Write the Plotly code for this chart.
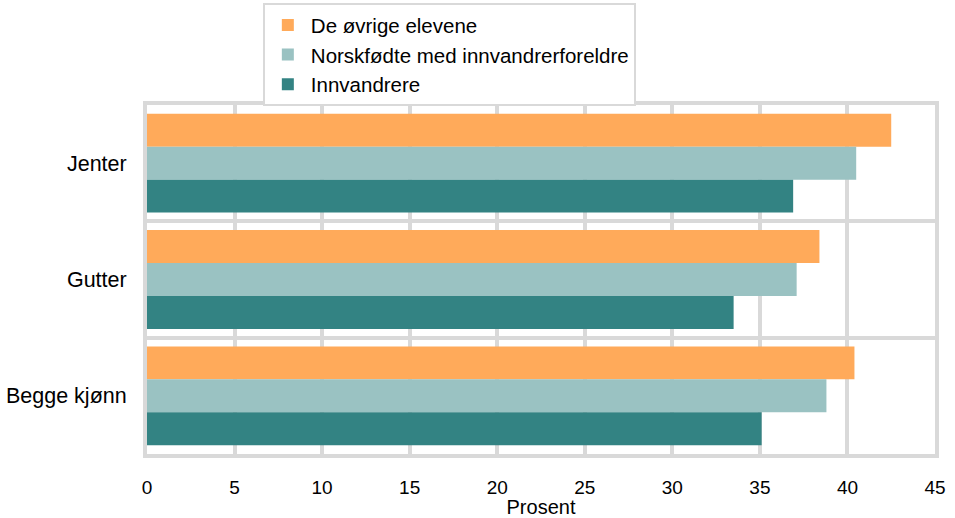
import plotly.graph_objects as go

categories = ["Jenter", "Gutter", "Begge kjønn"]
series_names = ["De øvrige elevene", "Norskfødte med innvandrerforeldre", "Innvandrere"]
ovrige = [42.5, 38.4, 40.4]
norskfodte = [40.5, 37.1, 38.8]
innvandrere = [36.9, 33.5, 35.1]
x_ticks = [0, 5, 10, 15, 20, 25, 30, 35, 40, 45]
colors = ["#FFAA5A", "#9AC2C2", "#338383"]

fig = go.Figure()
for name, vals, col in zip(series_names, [ovrige, norskfodte, innvandrere], colors):
    fig.add_trace(go.Bar(y=categories, x=vals, name=name, orientation="h",
                         marker=dict(color=col, line=dict(width=0))))

font = "Liberation Sans, Arial, sans-serif"
fig.update_layout(
    width=955, height=518,
    margin=dict(l=147, r=20, t=105, b=64, autoexpand=False),
    barmode="group", bargap=0.15, bargroupgap=0,
    plot_bgcolor="white", paper_bgcolor="white",
    font=dict(family=font, size=21, color="#000000"),
    legend=dict(x=0.147, y=1.292, xanchor="left", yanchor="top",
                bgcolor="white", bordercolor="#D9D9D9", borderwidth=2,
                font=dict(size=20.5), traceorder="normal", itemwidth=36),
    xaxis=dict(range=[0, 45], tickvals=x_ticks, showgrid=True, gridcolor="#D9D9D9",
               gridwidth=4, zeroline=False, showline=True, mirror=True,
               linecolor="#D9D9D9", linewidth=4, automargin=False,
               ticks="", ticklabelstandoff=13, tickfont=dict(size=19),
               title=dict(text="Prosent", font=dict(size=20), standoff=2)),
    yaxis=dict(categoryorder="array", categoryarray=categories, range=[2.5, -0.5],
               tickson="boundaries", showgrid=True, gridcolor="#D9D9D9", gridwidth=4,
               showline=True, mirror=True, linecolor="#D9D9D9", linewidth=4,
               automargin=False, ticks="", ticklabelstandoff=12, tickfont=dict(size=21.5)),
    yaxis2=dict(overlaying="y", side="left", range=[2.5, -0.5], showline=True,
                linecolor="#BFBFBF", linewidth=4, showgrid=False, zeroline=False,
                showticklabels=False, ticks=""),
)

fig.write_html("out.html", config={"displayModeBar": False},
               post_script="document.body.style.margin='0';")
